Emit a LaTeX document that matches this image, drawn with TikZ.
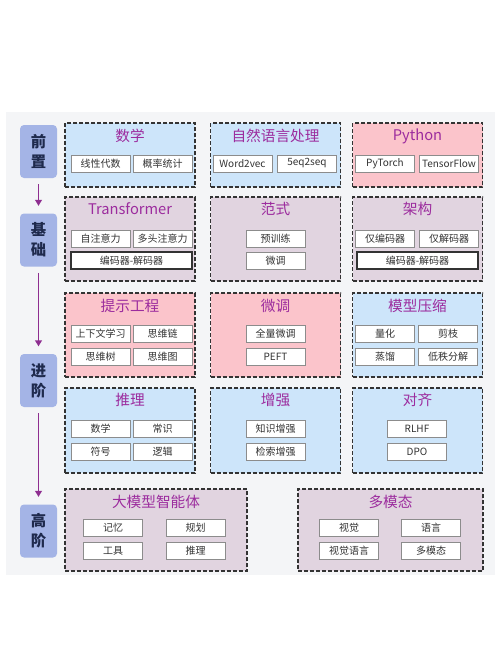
\documentclass[tikz,border=0pt]{standalone}
\usepackage{fontspec}
\setmainfont{Noto Sans CJK SC}
\usetikzlibrary{arrows.meta,positioning}

\definecolor{bgpanel}{HTML}{F4F5F7}
\definecolor{stagebl}{HTML}{A4B4E6}
\definecolor{stagetx}{HTML}{1F2A4D}
\definecolor{flowpu}{HTML}{8E2E90}
\definecolor{grpblue}{HTML}{CDE5FA}
\definecolor{grppink}{HTML}{FBC4CB}
\definecolor{grpmauve}{HTML}{E1D4E0}
\definecolor{ttlpu}{HTML}{9C2C9E}
\definecolor{itemln}{HTML}{8C8C8C}
\definecolor{itemtx}{HTML}{333333}

\tikzset{
    stage/.style={fill=stagebl, rounded corners=3pt, minimum width=27.75pt, minimum height=39.75pt,
        align=center, text=stagetx, font=\fontsize{11.5}{15}\selectfont\bfseries},
    flow/.style={draw=flowpu, line width=1.2pt, -{Triangle[width=5pt,length=4.5pt]},
        shorten <=4.5pt, shorten >=5.5pt},
    grp/.style={draw=black!80, line width=1pt, dash pattern=on 3pt off 1.5pt, minimum width=97.5pt},
    ttl/.style={text=ttlpu, font=\fontsize{11}{12}\selectfont, inner sep=0pt},
    item/.style={draw=itemln, fill=white, line width=0.6pt, minimum width=44.25pt,
        minimum height=12.75pt, inner sep=0pt, text=itemtx, font=\fontsize{7.5}{9}\selectfont},
    wide/.style={item, draw=black!80, line width=0.9pt, minimum width=90.75pt},
}

\begin{document}
\begin{tikzpicture}[x=0.75pt,y=-0.75pt]
    \useasboundingbox (0,0) rectangle (500,653);
    \fill[bgpanel] (6,112) rectangle (495,575);

    % stages
    \foreach \s/\y [count=\i] in {前\\置/151.5, 基\\础/240, 进\\阶/380.5, 高\\阶/531} {
        \node[stage] (s\i) at (38.5,\y) {\s};
    }
    \foreach \a/\b in {s1/s2, s2/s3, s3/s4} {
        \draw[flow] (\a) -- (\b);
    }

    % row 1
    \node[grp, fill=grpblue, minimum height=48pt] (c11) at (130,155) {};
    \node[grp, fill=grpblue, minimum height=48pt] (c12) at (275.5,155) {};
    \node[grp, fill=grppink, minimum height=48pt] (c13) at (417.5,155) {};
    \node[ttl] (t11) at ([yshift=-10.5pt]c11.north) {数学};
    \node[ttl] (t12) at ([yshift=-10.5pt]c12.north) {自然语言处理};
    \node[ttl] (t13) at ([yshift=-10.5pt]c13.north) {Python};
    \node[item] (c11a) at (100.5,163.5) {线性代数};
    \node[item] (c11b) at (162.5,163.5) {概率统计};
    \node[item] (c12a) at (242.5,163.5) {Word2vec};
    \node[item] (c12b) at (307,163.5) {5eq2seq};
    \node[item] (c13a) at (385,163.5) {PyTorch};
    \node[item] (c13b) at (449,163.5) {TensorFlow};

    % row 2
    \node[grp, fill=grpmauve, minimum height=63pt] (c21) at (130,239) {};
    \node[grp, fill=grpmauve, minimum height=63pt] (c22) at (275.5,239) {};
    \node[grp, fill=grpmauve, minimum height=63pt] (c23) at (417.5,239) {};
    \node[ttl] (t21) at ([yshift=-9.5pt]c21.north) {Transformer};
    \node[ttl] (t22) at ([yshift=-9.5pt]c22.north) {范式};
    \node[ttl] (t23) at ([yshift=-9.5pt]c23.north) {架构};
    \node[item] (c21a) at (100.5,238.5) {自注意力};
    \node[item] (c21b) at (162.5,238.5) {多头注意力};
    \node[wide] (c21c) at (131.5,260.5) {编码器-解码器};
    \node[item] (c22a) at (275.5,238.5) {预训练};
    \node[item] (c22b) at (275.5,260.5) {微调};
    \node[item] (c23a) at (385,238.5) {仅编码器};
    \node[item] (c23b) at (449,238.5) {仅解码器};
    \node[wide] (c23c) at (417.5,260.5) {编码器-解码器};

    % row 3
    \node[grp, fill=grppink, minimum height=63pt] (c31) at (130,335) {};
    \node[grp, fill=grppink, minimum height=63pt] (c32) at (275.5,335) {};
    \node[grp, fill=grpblue, minimum height=63pt] (c33) at (417.5,335) {};
    \node[ttl] (t31) at ([yshift=-10.5pt]c31.north) {提示工程};
    \node[ttl] (t32) at ([yshift=-10.5pt]c32.north) {微调};
    \node[ttl] (t33) at ([yshift=-10.5pt]c33.north) {模型压缩};
    \node[item] (c31a) at (100.5,334) {上下文学习};
    \node[item] (c31b) at (162.5,334) {思维链};
    \node[item] (c31c) at (100.5,356.5) {思维树};
    \node[item] (c31d) at (162.5,356.5) {思维图};
    \node[item] (c32a) at (275.5,334) {全量微调};
    \node[item] (c32b) at (275.5,356.5) {PEFT};
    \node[item] (c33a) at (385,334) {量化};
    \node[item] (c33b) at (448,334) {剪枝};
    \node[item] (c33c) at (385,356.5) {蒸馏};
    \node[item] (c33d) at (448,356.5) {低秩分解};

    % row 4
    \node[grp, fill=grpblue, minimum height=63.75pt] (c41) at (130,430.5) {};
    \node[grp, fill=grpblue, minimum height=63.75pt] (c42) at (275.5,430.5) {};
    \node[grp, fill=grpblue, minimum height=63.75pt] (c43) at (417.5,430.5) {};
    \node[ttl] (t41) at ([yshift=-9.5pt]c41.north) {推理};
    \node[ttl] (t42) at ([yshift=-9.5pt]c42.north) {增强};
    \node[ttl] (t43) at ([yshift=-9.5pt]c43.north) {对齐};
    \node[item] (c41a) at (100.5,429) {数学};
    \node[item] (c41b) at (162.5,429) {常识};
    \node[item] (c41c) at (100.5,451.5) {符号};
    \node[item] (c41d) at (162.5,451.5) {逻辑};
    \node[item] (c42a) at (275.5,429) {知识增强};
    \node[item] (c42b) at (275.5,451.5) {检索增强};
    \node[item] (c43a) at (417,429) {RLHF};
    \node[item] (c43b) at (417,451.5) {DPO};

    % row 5
    \node[grp, fill=grpmauve, minimum width=136.5pt, minimum height=61.5pt] (c51) at (156,530) {};
    \node[grp, fill=grpmauve, minimum width=138.75pt, minimum height=61.5pt] (c52) at (390.5,530) {};
    \node[ttl] (t51) at ([yshift=-10pt]c51.north) {大模型智能体};
    \node[ttl] (t52) at ([yshift=-10pt]c52.north) {多模态};
    \node[item] (c51a) at (113,527.5) {记忆};
    \node[item] (c51b) at (195.5,527.5) {规划};
    \node[item] (c51c) at (113,551) {工具};
    \node[item] (c51d) at (195.5,551) {推理};
    \node[item] (c52a) at (349,527.5) {视觉};
    \node[item] (c52b) at (431,527.5) {语言};
    \node[item] (c52c) at (349,551) {视觉语言};
    \node[item] (c52d) at (431,551) {多模态};
\end{tikzpicture}
\end{document}
